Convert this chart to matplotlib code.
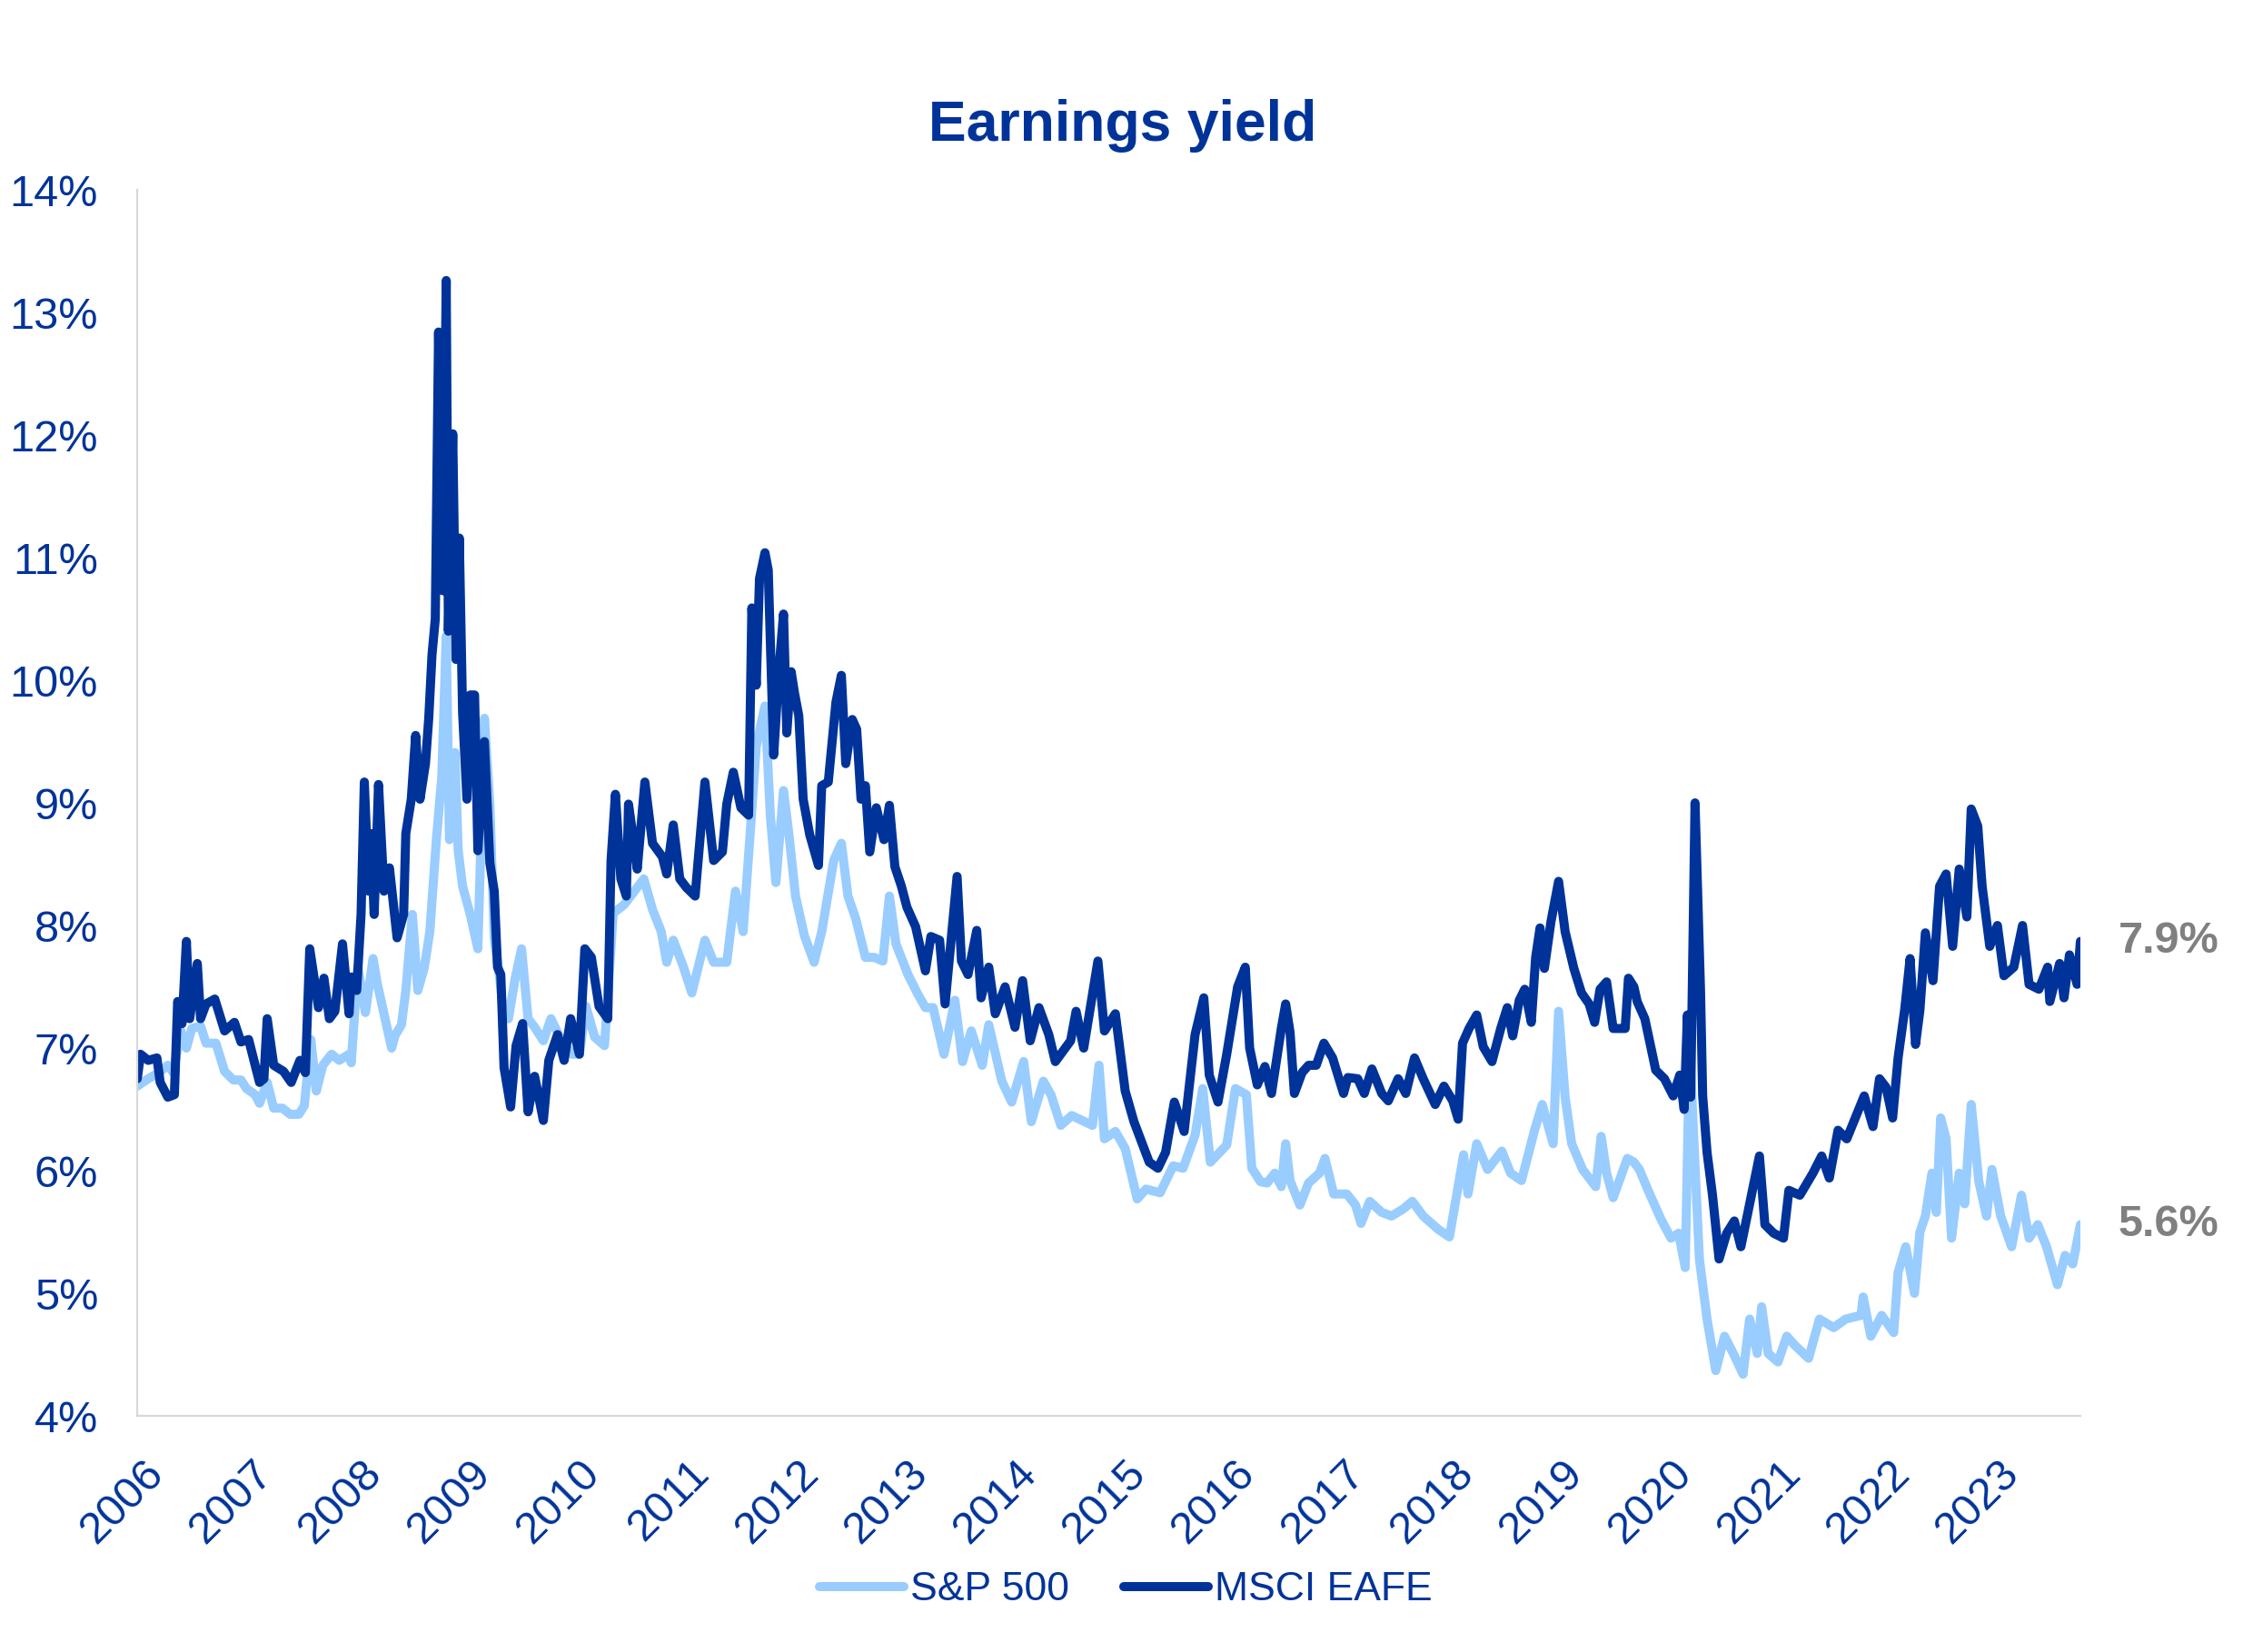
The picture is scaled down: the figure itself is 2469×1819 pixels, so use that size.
import matplotlib.pyplot as plt
import matplotlib.transforms as mtransforms
from matplotlib.ticker import FuncFormatter

# Colours
NAVY = "#003399"
LIGHT = "#99CCFF"
GREY = "#808080"
AXIS_GREY = "#D9D9D9"

# Earnings yield (%); dates are decimal years
eafe_dates = [
    2006.00, 2006.03, 2006.10, 2006.18, 2006.21, 2006.28, 2006.34, 2006.37, 2006.41, 2006.45,
    2006.48, 2006.55, 2006.58, 2006.63, 2006.71, 2006.80, 2006.89, 2006.95, 2007.02, 2007.06,
    2007.12, 2007.16, 2007.19, 2007.25, 2007.34, 2007.41, 2007.49, 2007.54, 2007.58, 2007.66,
    2007.71, 2007.76, 2007.81, 2007.88, 2007.94, 2007.96, 2008.01, 2008.05, 2008.08, 2008.12,
    2008.14, 2008.17, 2008.21, 2008.26, 2008.31, 2008.38, 2008.44, 2008.46, 2008.51, 2008.55,
    2008.59, 2008.64, 2008.67, 2008.70, 2008.73, 2008.76, 2008.80, 2008.83, 2008.85, 2008.89,
    2008.92, 2008.95, 2008.98, 2009.02, 2009.05, 2009.09, 2009.12, 2009.18, 2009.23, 2009.27,
    2009.30, 2009.33, 2009.36, 2009.42, 2009.47, 2009.53, 2009.58, 2009.64, 2009.72, 2009.77,
    2009.85, 2009.91, 2009.97, 2010.05, 2010.10, 2010.16, 2010.23, 2010.31, 2010.34, 2010.38,
    2010.43, 2010.48, 2010.50, 2010.55, 2010.58, 2010.65, 2010.72, 2010.81, 2010.85, 2010.91,
    2010.97, 2011.03, 2011.11, 2011.20, 2011.28, 2011.36, 2011.40, 2011.46, 2011.53, 2011.60,
    2011.63, 2011.67, 2011.70, 2011.75, 2011.78, 2011.83, 2011.88, 2011.92, 2011.95, 2011.99,
    2012.02, 2012.06, 2012.10, 2012.16, 2012.24, 2012.27, 2012.33, 2012.40, 2012.45, 2012.49,
    2012.55, 2012.59, 2012.63, 2012.67, 2012.71, 2012.77, 2012.84, 2012.89, 2012.94, 2013.00,
    2013.05, 2013.13, 2013.22, 2013.27, 2013.35, 2013.40, 2013.46, 2013.51, 2013.55, 2013.61,
    2013.69, 2013.73, 2013.80, 2013.86, 2013.95, 2014.04, 2014.11, 2014.18, 2014.26, 2014.35,
    2014.41, 2014.55, 2014.60, 2014.67, 2014.80, 2014.86, 2014.96, 2015.05, 2015.13, 2015.27,
    2015.35, 2015.42, 2015.50, 2015.59, 2015.69, 2015.77, 2015.82, 2015.90, 2015.98, 2016.08,
    2016.15, 2016.19, 2016.26, 2016.33, 2016.39, 2016.48, 2016.52, 2016.56, 2016.60, 2016.67,
    2016.73, 2016.80, 2016.87, 2016.95, 2017.05, 2017.09, 2017.18, 2017.24, 2017.31, 2017.40,
    2017.46, 2017.55, 2017.62, 2017.70, 2017.78, 2017.89, 2017.97, 2018.05, 2018.10, 2018.14,
    2018.20, 2018.27, 2018.33, 2018.41, 2018.49, 2018.55, 2018.60, 2018.66, 2018.71, 2018.77,
    2018.81, 2018.85, 2018.89, 2018.95, 2019.02, 2019.08, 2019.16, 2019.23, 2019.30, 2019.35,
    2019.40, 2019.46, 2019.52, 2019.63, 2019.66, 2019.71, 2019.74, 2019.81, 2019.91, 2019.99,
    2020.07, 2020.13, 2020.17, 2020.20, 2020.23, 2020.27, 2020.32, 2020.34, 2020.38, 2020.43,
    2020.49, 2020.56, 2020.63, 2020.69, 2020.77, 2020.86, 2020.91, 2020.99, 2021.08, 2021.13,
    2021.23, 2021.35, 2021.43, 2021.50, 2021.58, 2021.66, 2021.82, 2021.90, 2021.96, 2022.02,
    2022.08, 2022.13, 2022.19, 2022.24, 2022.29, 2022.33, 2022.38, 2022.45, 2022.51, 2022.57,
    2022.63, 2022.69, 2022.76, 2022.80, 2022.86, 2022.90, 2022.97, 2023.04, 2023.10, 2023.19,
    2023.27, 2023.33, 2023.42, 2023.50, 2023.52, 2023.61, 2023.65, 2023.70, 2023.77, 2023.80,
]
eafe_vals = [
    6.75, 6.95, 6.90, 6.92, 6.72, 6.60, 6.62, 7.38, 7.20, 7.87,
    7.24, 7.69, 7.24, 7.36, 7.40, 7.14, 7.21, 7.05, 7.07, 6.93,
    6.72, 6.75, 7.24, 6.86, 6.81, 6.72, 6.90, 6.80, 7.81, 7.33,
    7.57, 7.24, 7.30, 7.85, 7.28, 7.58, 7.47, 8.09, 9.17, 8.28,
    8.75, 8.09, 9.15, 8.28, 8.47, 7.90, 8.09, 8.75, 9.03, 9.55,
    9.03, 9.32, 9.69, 10.21, 10.50, 12.84, 10.73, 13.26, 10.40, 12.01,
    10.17, 11.16, 9.74, 9.03, 9.88, 9.88, 8.61, 9.50, 8.51, 8.28,
    7.66, 7.60, 6.84, 6.52, 7.02, 7.20, 6.48, 6.77, 6.41, 6.90,
    7.11, 6.90, 7.24, 6.95, 7.81, 7.74, 7.34, 7.24, 8.53, 9.07,
    8.38, 8.24, 8.99, 8.67, 8.46, 9.17, 8.67, 8.56, 8.42, 8.82,
    8.38, 8.31, 8.24, 9.17, 8.53, 8.60, 8.99, 9.25, 8.96, 8.90,
    10.59, 9.96, 10.83, 11.04, 10.90, 9.39, 10.11, 10.54, 9.57, 10.07,
    9.90, 9.71, 9.03, 8.74, 8.49, 9.14, 9.17, 9.82, 10.04, 9.32,
    9.68, 9.60, 9.03, 9.14, 8.60, 8.96, 8.70, 8.98, 8.48, 8.32,
    8.15, 7.99, 7.63, 7.91, 7.88, 7.36, 7.93, 8.40, 7.71, 7.60,
    7.96, 7.41, 7.66, 7.28, 7.50, 7.17, 7.55, 7.06, 7.33, 7.11,
    6.89, 7.06, 7.30, 7.00, 7.71, 7.14, 7.28, 6.65, 6.40, 6.07,
    6.02, 6.15, 6.56, 6.32, 7.11, 7.41, 6.78, 6.56, 6.95, 7.50,
    7.66, 7.00, 6.70, 6.85, 6.63, 7.16, 7.36, 7.13, 6.63, 6.80,
    6.86, 6.86, 7.04, 6.92, 6.63, 6.76, 6.75, 6.63, 6.83, 6.63,
    6.57, 6.75, 6.63, 6.92, 6.75, 6.54, 6.69, 6.57, 6.42, 7.04,
    7.16, 7.27, 7.01, 6.89, 7.16, 7.33, 7.10, 7.39, 7.48, 7.21,
    7.74, 7.98, 7.65, 8.03, 8.36, 7.95, 7.65, 7.45, 7.36, 7.21,
    7.48, 7.54, 7.16, 7.16, 7.57, 7.50, 7.38, 7.24, 6.82, 6.75,
    6.61, 6.78, 6.50, 7.27, 6.60, 9.00, 7.48, 6.61, 6.15, 5.80,
    5.28, 5.49, 5.59, 5.38, 5.73, 6.12, 5.56, 5.49, 5.45, 5.84,
    5.80, 5.98, 6.12, 5.94, 6.33, 6.26, 6.61, 6.36, 6.75, 6.68,
    6.43, 6.92, 7.31, 7.73, 7.03, 7.31, 7.94, 7.55, 8.32, 8.42,
    7.83, 8.46, 8.07, 8.95, 8.81, 8.32, 7.83, 8.00, 7.59, 7.66,
    8.00, 7.52, 7.48, 7.66, 7.38, 7.69, 7.41, 7.76, 7.52, 7.87,
]

sp_dates = [
    2006.00, 2006.10, 2006.20, 2006.28, 2006.33, 2006.37, 2006.40, 2006.45, 2006.50, 2006.58,
    2006.63, 2006.72, 2006.80, 2006.88, 2006.95, 2007.00, 2007.08, 2007.12, 2007.19, 2007.25,
    2007.33, 2007.40, 2007.48, 2007.53, 2007.59, 2007.64, 2007.70, 2007.78, 2007.85, 2007.94,
    2007.96, 2008.02, 2008.09, 2008.16, 2008.20, 2008.33, 2008.36, 2008.42, 2008.46, 2008.52,
    2008.57, 2008.63, 2008.68, 2008.74, 2008.79, 2008.83, 2008.86, 2008.91, 2008.94, 2008.98,
    2009.05, 2009.12, 2009.18, 2009.23, 2009.27, 2009.32, 2009.36, 2009.40, 2009.46, 2009.52,
    2009.58, 2009.64, 2009.72, 2009.79, 2009.87, 2009.98, 2010.05, 2010.11, 2010.19, 2010.28,
    2010.36, 2010.46, 2010.64, 2010.72, 2010.80, 2010.85, 2010.91, 2011.00, 2011.08, 2011.20,
    2011.28, 2011.40, 2011.48, 2011.55, 2011.62, 2011.67, 2011.75, 2011.80, 2011.85, 2011.92,
    2011.97, 2012.03, 2012.11, 2012.20, 2012.27, 2012.38, 2012.45, 2012.51, 2012.58, 2012.67,
    2012.75, 2012.83, 2012.89, 2012.95, 2013.06, 2013.15, 2013.22, 2013.29, 2013.39, 2013.44,
    2013.49, 2013.56, 2013.64, 2013.74, 2013.80, 2013.92, 2014.01, 2014.12, 2014.19, 2014.30,
    2014.37, 2014.46, 2014.56, 2014.75, 2014.81, 2014.86, 2014.96, 2015.05, 2015.16, 2015.24,
    2015.37, 2015.49, 2015.58, 2015.69, 2015.76, 2015.83, 2015.98, 2016.06, 2016.16, 2016.21,
    2016.29, 2016.35, 2016.42, 2016.48, 2016.52, 2016.56, 2016.65, 2016.73, 2016.83, 2016.88,
    2016.96, 2017.08, 2017.16, 2017.21, 2017.29, 2017.40, 2017.49, 2017.60, 2017.68, 2017.78,
    2017.92, 2018.02, 2018.15, 2018.19, 2018.27, 2018.37, 2018.50, 2018.58, 2018.68, 2018.80,
    2018.87, 2018.97, 2019.02, 2019.08, 2019.14, 2019.24, 2019.36, 2019.41, 2019.46, 2019.52,
    2019.65, 2019.71, 2019.76, 2019.84, 2019.96, 2020.05, 2020.12, 2020.18, 2020.22, 2020.31,
    2020.38, 2020.46, 2020.54, 2020.62, 2020.71, 2020.77, 2020.84, 2020.88, 2020.94, 2021.03,
    2021.11, 2021.18, 2021.31, 2021.41, 2021.54, 2021.65, 2021.79, 2021.81, 2021.88, 2021.98,
    2022.09, 2022.13, 2022.20, 2022.28, 2022.33, 2022.38, 2022.44, 2022.48, 2022.52, 2022.57,
    2022.62, 2022.69, 2022.74, 2022.80, 2022.87, 2022.94, 2022.99, 2023.07, 2023.17, 2023.26,
    2023.33, 2023.41, 2023.49, 2023.59, 2023.66, 2023.73, 2023.80,
]
sp_vals = [
    6.69, 6.75, 6.80, 6.86, 6.80, 7.00, 7.14, 7.00, 7.16, 7.18,
    7.04, 7.04, 6.81, 6.74, 6.74, 6.67, 6.62, 6.55, 6.72, 6.51,
    6.51, 6.46, 6.46, 6.53, 7.07, 6.65, 6.86, 6.95, 6.90, 6.95,
    6.88, 7.66, 7.29, 7.73, 7.52, 7.00, 7.10, 7.19, 7.47, 8.09,
    7.47, 7.66, 7.95, 8.70, 9.22, 10.36, 8.70, 9.41, 8.61, 8.32,
    8.09, 7.81, 9.69, 8.99, 7.90, 7.57, 7.24, 7.24, 7.56, 7.81,
    7.24, 7.17, 7.06, 7.24, 7.09, 6.95, 6.95, 7.34, 7.09, 7.02,
    8.10, 8.17, 8.38, 8.13, 7.95, 7.70, 7.88, 7.67, 7.45, 7.88,
    7.70, 7.70, 8.28, 7.95, 8.82, 9.46, 9.79, 8.89, 8.35, 9.10,
    8.74, 8.24, 7.92, 7.70, 7.95, 8.53, 8.67, 8.24, 8.06, 7.74,
    7.74, 7.71, 8.24, 7.85, 7.60, 7.44, 7.33, 7.33, 6.95, 7.17,
    7.39, 6.89, 7.14, 6.86, 7.19, 6.73, 6.56, 6.89, 6.40, 6.73,
    6.62, 6.37, 6.45, 6.37, 6.86, 6.26, 6.32, 6.18, 5.77, 5.85,
    5.82, 6.04, 6.02, 6.29, 6.67, 6.07, 6.21, 6.67, 6.62, 6.02,
    5.91, 5.90, 5.98, 5.87, 6.22, 5.92, 5.72, 5.90, 5.98, 6.10,
    5.81, 5.81, 5.72, 5.57, 5.75, 5.66, 5.63, 5.69, 5.75, 5.63,
    5.52, 5.46, 6.13, 5.81, 6.22, 6.01, 6.16, 5.98, 5.92, 6.33,
    6.54, 6.22, 7.30, 6.60, 6.22, 6.01, 5.87, 6.28, 5.98, 5.78,
    6.10, 6.07, 6.01, 5.84, 5.60, 5.45, 5.49, 5.21, 7.00, 5.28,
    4.79, 4.37, 4.65, 4.51, 4.34, 4.79, 4.51, 4.89, 4.51, 4.44,
    4.65, 4.58, 4.47, 4.79, 4.72, 4.79, 4.82, 4.97, 4.65, 4.82,
    4.68, 5.17, 5.38, 5.00, 5.50, 5.63, 5.98, 5.66, 6.43, 6.26,
    5.45, 5.98, 5.73, 6.54, 5.91, 5.63, 6.01, 5.63, 5.38, 5.80,
    5.45, 5.56, 5.38, 5.07, 5.31, 5.24, 5.56,
]

years = list(range(2006, 2024))
y_ticks = list(range(4, 15))

plt.rcParams['font.family'] = ['Liberation Sans', 'DejaVu Sans']

fig = plt.figure(figsize=(24.69, 18.19), dpi=100)
ax = fig.add_axes([0.0612, 0.1429, 0.8663, 0.7422])

line_kw = dict(lw=7.2, solid_joinstyle='round', solid_capstyle='round')
ax.plot(sp_dates, sp_vals, color=LIGHT, label="S&P 500", **line_kw)
ax.plot(eafe_dates, eafe_vals, color=NAVY, label="MSCI EAFE", **line_kw)

ax.set_xlim(2006, 2023.8)
ax.set_ylim(4, 14)
ax.set_yticks(y_ticks)
ax.yaxis.set_major_formatter(FuncFormatter(lambda v, p: f"{v:.0f}%"))
ax.set_xticks(years)
ax.set_xticklabels([str(y) for y in years], rotation=45, ha='right', va='top',
                   rotation_mode='anchor')
ax.tick_params(axis='both', length=0, labelsize=35, labelcolor=NAVY)
ax.tick_params(axis='x', pad=29)
ax.tick_params(axis='y', pad=31)

# nudge the rotated year labels a little to the right, as in the original
shift = mtransforms.ScaledTranslation(6 / 100, 0, fig.dpi_scale_trans)
for lbl in ax.get_xticklabels():
    lbl.set_transform(lbl.get_transform() + shift)

for side in ("top", "right"):
    ax.spines[side].set_visible(False)
for side in ("left", "bottom"):
    ax.spines[side].set_color(AXIS_GREY)
    ax.spines[side].set_linewidth(1.6)

# latest values at the right end
for dates, vals in ((eafe_dates, eafe_vals), (sp_dates, sp_vals)):
    ax.annotate(f"{vals[-1]:.1f}%", xy=(dates[-1], vals[-1]), xytext=(30, 0),
                textcoords='offset points', ha='left', va='center', fontsize=35,
                fontweight='bold', color=GREY, annotation_clip=False)

fig.text(0.5006, 1 - 155 / 1819, "Earnings yield", ha='center', va='baseline',
         fontsize=45, fontweight='bold', color=NAVY)

leg = fig.legend(loc='center', bbox_to_anchor=(0.502, 0.0374), ncol=2, frameon=False,
                 fontsize=32, handlelength=2.1, handletextpad=0.15, columnspacing=1.35)
for txt in leg.get_texts():
    txt.set_color(NAVY)

fig.savefig("out.png", dpi=100, facecolor='white')
